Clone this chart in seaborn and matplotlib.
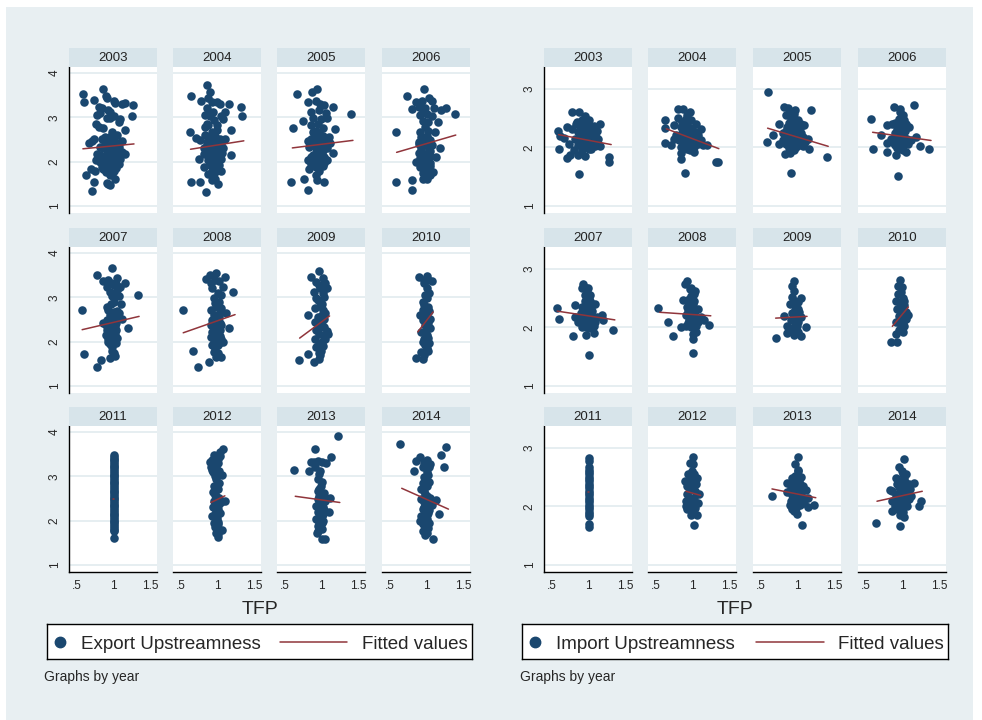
import matplotlib
matplotlib.use('Agg')
import matplotlib.pyplot as plt
from matplotlib.lines import Line2D
from matplotlib.patches import Rectangle
import seaborn as sns
import pandas as pd

YEARS = list(range(2003, 2015))
XTICKS = [0.5, 1, 1.5]
XTICK_LABELS = ['.5', '1', '1.5']

# export upstreamness vs TFP, one list of (tfp, upstreamness) per year
EXP_2003 = [(0.58, 3.52), (0.60, 3.34), (0.73, 3.40), (0.86, 3.64), (0.89, 3.47), (0.91, 3.43), (1.00, 3.37), (1.02, 3.32),
            (1.11, 3.30), (1.15, 3.32), (1.27, 3.28), (1.25, 3.04), (0.80, 3.24), (0.84, 3.22), (0.77, 3.05), (0.81, 3.09),
            (0.93, 3.17), (0.95, 3.13), (0.91, 2.98), (0.95, 2.99), (1.00, 3.02), (1.09, 2.96), (1.08, 2.90), (0.76, 2.84),
            (0.80, 2.79), (0.85, 2.75), (1.16, 2.71), (0.98, 2.67), (0.66, 2.43), (0.70, 2.46), (0.73, 2.51), (0.84, 2.51),
            (0.89, 2.46), (0.93, 2.48), (1.00, 2.51), (1.02, 2.45), (1.11, 2.46), (0.82, 2.33), (0.86, 2.30), (0.91, 2.31),
            (0.95, 2.26), (1.05, 2.30), (1.07, 2.33), (1.16, 2.18), (0.77, 2.18), (0.82, 2.14), (0.86, 2.11), (0.91, 2.18),
            (0.95, 2.13), (1.00, 2.16), (1.05, 2.11), (1.09, 2.07), (0.76, 2.03), (0.81, 1.99), (0.85, 1.95), (0.90, 2.01),
            (0.95, 1.98), (0.99, 1.93), (1.04, 1.99), (1.08, 1.95), (0.69, 1.83), (0.75, 1.78), (0.89, 1.77), (0.98, 1.73),
            (1.02, 1.61), (0.95, 1.69), (0.62, 1.69), (0.73, 1.54), (0.91, 1.52), (0.95, 1.48), (0.71, 1.33), (0.93, 1.50),
            (0.91, 1.92), (0.84, 1.88), (0.86, 1.84), (0.88, 2.40), (0.97, 2.38), (1.04, 2.36), (0.98, 2.22), (1.03, 2.23),
            (1.12, 2.22), (0.93, 2.06), (1.02, 2.05), (1.06, 2.02), (0.97, 1.87), (1.04, 1.85), (0.88, 2.56), (0.97, 2.58),
            (1.05, 2.60), (1.00, 1.80)]
EXP_2004 = [(0.86, 3.72), (0.90, 3.58), (0.63, 3.49), (0.78, 3.37), (0.87, 3.43), (0.92, 3.34), (0.99, 3.34), (1.03, 3.30),
            (1.15, 3.30), (1.32, 3.24), (1.33, 3.04), (0.85, 3.20), (0.94, 3.13), (1.10, 3.13), (0.83, 3.05), (0.90, 3.02),
            (1.05, 3.02), (1.08, 2.96), (0.85, 2.86), (0.83, 2.79), (0.87, 2.83), (1.19, 2.71), (0.62, 2.67), (0.99, 2.71),
            (0.83, 2.60), (0.71, 2.54), (0.76, 2.48), (0.92, 2.56), (0.96, 2.58), (1.03, 2.51), (1.10, 2.52), (0.85, 2.45),
            (0.92, 2.41), (0.99, 2.43), (1.05, 2.39), (0.81, 2.31), (0.87, 2.28), (0.94, 2.23), (1.01, 2.26), (1.08, 2.31),
            (1.19, 2.16), (0.81, 2.18), (0.90, 2.14), (0.96, 2.13), (1.03, 2.16), (0.75, 2.07), (0.87, 2.03), (0.94, 1.99),
            (1.01, 2.01), (1.05, 2.05), (0.81, 1.88), (0.90, 1.92), (0.99, 1.84), (1.05, 1.78), (0.87, 1.73), (0.94, 1.69),
            (0.96, 1.61), (1.01, 1.50), (0.63, 1.55), (0.76, 1.55), (0.84, 1.31), (0.92, 1.58), (0.85, 2.37), (0.92, 2.67),
            (0.99, 2.83), (0.90, 2.48), (0.97, 2.50), (0.98, 2.38), (1.03, 2.32), (0.91, 2.27), (0.98, 2.15), (1.06, 2.20),
            (0.92, 2.08), (1.00, 2.08), (0.96, 1.95), (1.02, 1.92), (0.92, 1.80), (0.97, 1.76), (0.95, 2.95), (0.90, 3.10)]
EXP_2005 = [(0.67, 3.52), (0.87, 3.56), (0.94, 3.64), (0.81, 3.34), (0.92, 3.36), (1.04, 3.28), (1.16, 3.24), (1.40, 3.07),
            (0.86, 3.13), (0.97, 3.17), (1.06, 3.09), (0.75, 2.92), (0.88, 2.98), (0.99, 2.96), (1.08, 2.99), (0.61, 2.75),
            (0.86, 2.83), (0.95, 2.84), (1.02, 2.75), (1.19, 2.73), (0.88, 2.67), (0.97, 2.64), (0.90, 2.56), (1.02, 2.58),
            (1.10, 2.56), (0.81, 2.46), (0.92, 2.43), (1.04, 2.48), (1.12, 2.41), (0.83, 2.33), (0.92, 2.30), (1.02, 2.26),
            (1.08, 2.31), (1.15, 2.20), (0.88, 2.16), (0.96, 2.13), (1.04, 2.11), (0.81, 2.03), (0.90, 1.99), (0.99, 2.01),
            (1.08, 2.03), (0.83, 1.84), (0.92, 1.88), (1.02, 1.90), (0.92, 1.69), (0.94, 1.58), (0.76, 1.60), (0.58, 1.54),
            (0.81, 1.37), (1.03, 1.54), (0.88, 1.93), (0.97, 2.37), (0.86, 2.50), (0.98, 2.52), (0.87, 2.38), (1.00, 2.40),
            (1.06, 2.36), (0.96, 2.26), (1.00, 2.19), (0.92, 2.20), (0.85, 2.10), (0.98, 2.08), (1.03, 1.96), (0.96, 1.78),
            (0.86, 1.94), (0.92, 2.70), (0.98, 3.30)]
EXP_2006 = [(0.96, 3.64), (0.73, 3.49), (0.86, 3.34), (0.94, 3.37), (1.04, 3.43), (1.07, 3.36), (0.80, 3.19), (0.90, 3.24),
            (0.98, 3.20), (1.10, 3.22), (1.20, 3.17), (1.26, 3.22), (1.39, 3.07), (0.91, 3.05), (1.00, 3.07), (1.07, 3.02),
            (0.95, 2.92), (1.16, 2.89), (0.98, 2.79), (0.58, 2.67), (0.91, 2.67), (1.02, 2.69), (1.11, 2.67), (0.93, 2.56),
            (1.00, 2.58), (0.89, 2.45), (0.98, 2.46), (1.05, 2.48), (0.93, 2.33), (1.02, 2.36), (1.18, 2.30), (0.89, 2.20),
            (0.98, 2.18), (1.05, 2.23), (0.91, 2.08), (1.00, 2.05), (1.13, 2.11), (0.86, 1.99), (0.95, 1.95), (1.05, 1.98),
            (0.91, 1.88), (1.00, 1.84), (0.58, 1.55), (0.80, 1.58), (0.80, 1.37), (0.95, 1.60), (1.01, 1.61), (1.05, 1.69),
            (1.09, 1.77), (0.95, 2.37), (0.95, 2.50), (1.02, 2.52), (0.90, 2.40), (1.00, 2.42), (1.08, 2.38), (0.93, 2.26),
            (1.03, 2.28), (0.95, 2.12), (1.05, 2.12), (0.96, 2.02), (0.98, 1.90), (1.05, 1.90), (0.95, 1.75), (1.00, 1.70),
            (1.02, 2.90), (0.95, 3.15)]
EXP_2007 = [(0.98, 3.66), (0.78, 3.51), (0.57, 2.71), (0.60, 1.73), (0.78, 1.42), (0.83, 1.58), (1.33, 3.05), (1.20, 2.30),
            (1.10, 2.86), (0.86, 3.36), (0.93, 3.39), (1.05, 3.43), (1.16, 3.32), (0.91, 3.24), (1.00, 3.28), (1.09, 3.24),
            (0.95, 3.13), (1.05, 3.17), (0.98, 3.02), (1.07, 3.04), (1.00, 2.90), (0.91, 2.79), (0.93, 2.71), (1.00, 2.67),
            (1.07, 2.64), (0.95, 2.60), (1.05, 2.52), (1.11, 2.52), (0.91, 2.48), (0.98, 2.45), (0.89, 2.37), (0.95, 2.33),
            (1.02, 2.36), (0.91, 2.26), (1.00, 2.23), (0.89, 2.16), (0.95, 2.14), (1.02, 2.18), (0.93, 2.07), (1.00, 2.03),
            (0.95, 1.95), (0.98, 1.88), (0.95, 1.63), (1.02, 1.67), (0.93, 1.99), (0.86, 2.41), (0.96, 2.40), (1.03, 2.42),
            (0.97, 2.28), (1.04, 2.26), (0.98, 2.10), (1.05, 2.08), (0.97, 1.98), (1.03, 1.96), (0.98, 1.80), (1.00, 1.75),
            (1.02, 2.56), (0.96, 2.84), (1.04, 3.30), (0.97, 3.32), (1.05, 2.70)]
EXP_2008 = [(0.90, 3.51), (0.98, 3.55), (0.84, 3.42), (1.10, 3.45), (1.21, 3.11), (0.53, 2.71), (0.66, 1.78), (0.73, 1.42),
            (0.88, 1.54), (1.16, 2.30), (1.12, 2.64), (0.91, 3.32), (1.02, 3.36), (1.07, 3.24), (0.93, 3.20), (1.00, 3.09),
            (0.95, 2.98), (1.02, 2.90), (0.98, 2.79), (0.91, 2.71), (1.05, 2.75), (0.95, 2.60), (1.02, 2.56), (0.92, 2.48),
            (1.01, 2.45), (0.91, 2.37), (0.98, 2.33), (1.05, 2.37), (0.93, 2.22), (1.00, 2.18), (0.91, 2.11), (0.98, 2.03),
            (1.05, 2.07), (0.93, 1.93), (1.01, 1.92), (0.98, 1.65), (1.05, 1.65), (0.95, 1.77), (1.08, 1.99), (0.96, 2.40),
            (1.03, 2.42), (0.97, 2.28), (1.04, 2.27), (0.96, 2.12), (1.03, 2.12), (0.95, 2.00), (1.02, 1.98), (0.97, 1.86),
            (1.00, 1.75), (0.95, 2.50), (1.03, 2.65), (0.96, 2.87), (1.05, 3.05), (0.97, 3.40)]
EXP_2009 = [(0.96, 3.60), (0.85, 3.45), (0.92, 3.34), (1.05, 3.32), (0.98, 3.20), (0.89, 3.13), (1.02, 3.09), (0.93, 2.98),
            (1.00, 2.86), (0.91, 2.75), (1.02, 2.71), (0.82, 2.60), (0.95, 2.56), (1.05, 2.64), (0.91, 2.45), (1.00, 2.37),
            (1.08, 2.23), (0.93, 2.26), (1.02, 2.14), (0.91, 2.07), (1.00, 1.99), (0.93, 1.88), (0.99, 1.80), (0.81, 1.73),
            (0.69, 1.58), (0.90, 1.55), (0.96, 1.61), (0.98, 1.69), (1.09, 2.18), (0.95, 2.94), (1.02, 3.43), (0.96, 2.50),
            (1.03, 2.50), (0.96, 2.33), (1.04, 2.32), (0.97, 2.18), (1.05, 2.06), (0.96, 1.95), (1.02, 1.90), (0.97, 1.75),
            (1.00, 2.60), (0.98, 2.80), (1.03, 3.00), (0.96, 3.27), (1.07, 3.20)]
EXP_2010 = [(0.90, 3.45), (1.00, 3.47), (1.07, 3.36), (0.96, 3.32), (1.00, 3.20), (0.98, 3.05), (0.95, 2.90), (1.02, 2.79),
            (0.95, 2.71), (0.91, 2.60), (1.00, 2.64), (0.95, 2.48), (1.05, 2.31), (0.98, 2.37), (0.93, 2.22), (1.00, 2.14),
            (0.95, 1.99), (0.98, 1.92), (0.93, 1.77), (0.85, 1.63), (0.95, 1.60), (1.02, 1.80), (1.00, 2.98), (1.05, 2.52),
            (1.02, 3.40), (0.97, 3.38), (1.03, 3.10), (0.97, 2.83), (1.03, 2.70), (0.97, 2.55), (1.02, 2.43), (1.00, 2.30),
            (0.97, 2.05), (1.02, 2.08), (1.00, 1.85), (0.97, 1.70), (1.03, 1.98), (1.00, 2.56)]
EXP_2011 = [(1.00, 1.61), (1.00, 1.77), (1.00, 1.80), (1.00, 1.84), (1.00, 1.88), (1.00, 1.92), (1.00, 1.96), (1.00, 2.00),
            (1.00, 2.04), (1.00, 2.08), (1.00, 2.12), (1.00, 2.16), (1.00, 2.20), (1.00, 2.24), (1.00, 2.28), (1.00, 2.32),
            (1.00, 2.36), (1.00, 2.40), (1.00, 2.44), (1.00, 2.48), (1.00, 2.52), (1.00, 2.56), (1.00, 2.60), (1.00, 2.64),
            (1.00, 2.68), (1.00, 2.72), (1.00, 2.76), (1.00, 2.80), (1.00, 2.84), (1.00, 2.88), (1.00, 2.92), (1.00, 2.96),
            (1.00, 3.00), (1.00, 3.04), (1.00, 3.08), (1.00, 3.12), (1.00, 3.16), (1.00, 3.20), (1.00, 3.24), (1.00, 3.28),
            (1.00, 3.32), (1.00, 3.36), (1.00, 3.40), (1.00, 3.44), (1.00, 3.47)]
EXP_2012 = [(1.07, 3.62), (1.03, 3.55), (0.95, 3.47), (0.89, 3.32), (0.93, 3.36), (1.00, 3.39), (0.91, 3.20), (0.98, 3.22),
            (0.94, 3.09), (1.06, 3.02), (0.98, 2.94), (0.95, 2.79), (1.01, 2.71), (0.94, 2.64), (0.98, 2.56), (0.95, 2.45),
            (1.10, 2.45), (1.02, 2.37), (0.94, 2.30), (0.98, 2.23), (1.03, 2.18), (0.93, 2.11), (0.99, 2.05), (0.95, 1.95),
            (0.99, 1.80), (1.06, 1.80), (1.00, 1.63), (0.98, 1.73), (1.01, 1.92), (0.97, 2.67), (1.02, 3.13), (1.00, 3.30),
            (1.03, 3.45), (0.96, 3.00), (1.02, 2.85), (0.97, 2.58), (1.02, 2.50), (1.05, 2.42), (0.97, 2.38), (1.00, 2.27),
            (0.96, 2.15), (1.01, 1.98), (0.96, 1.86), (1.00, 1.70), (0.93, 3.15)]
EXP_2013 = [(1.22, 3.92), (0.91, 3.62), (0.62, 3.14), (0.83, 3.11), (1.13, 3.43), (0.85, 3.32), (0.95, 3.34), (1.00, 3.32),
            (0.91, 3.22), (0.98, 3.13), (0.95, 2.94), (0.99, 2.79), (0.95, 2.67), (1.00, 2.56), (0.95, 2.48), (1.05, 2.52),
            (1.11, 2.51), (0.98, 2.41), (0.93, 2.33), (1.02, 2.30), (0.95, 2.20), (1.10, 2.20), (1.00, 2.11), (0.93, 2.03),
            (1.00, 1.95), (0.95, 1.88), (0.95, 1.77), (1.01, 1.58), (1.05, 1.58), (0.98, 1.84), (1.02, 2.14), (0.97, 3.05),
            (1.01, 2.88), (0.96, 2.72), (1.03, 2.62), (0.97, 2.55), (0.97, 2.40), (1.05, 2.44), (1.00, 2.37), (0.96, 2.25),
            (1.04, 2.25), (0.97, 2.08), (1.02, 2.00), (0.97, 1.95), (1.00, 1.82), (0.94, 1.72), (1.06, 3.30), (0.89, 3.33)]
EXP_2014 = [(0.64, 3.72), (1.27, 3.67), (1.20, 3.49), (1.24, 3.22), (1.17, 2.16), (1.09, 1.58), (0.91, 3.43), (0.83, 3.11),
            (0.86, 3.34), (1.00, 3.36), (1.05, 3.28), (0.95, 3.22), (1.02, 3.02), (0.95, 2.86), (1.00, 2.79), (0.93, 2.71),
            (0.98, 2.60), (1.05, 2.52), (0.93, 2.48), (1.00, 2.37), (1.13, 2.46), (0.95, 2.26), (1.02, 2.18), (0.93, 2.11),
            (1.00, 2.03), (0.95, 1.92), (1.02, 1.84), (0.95, 1.77), (0.98, 1.67), (0.91, 1.99), (0.98, 2.94), (0.96, 3.30),
            (1.03, 3.20), (1.00, 3.10), (0.97, 2.98), (1.03, 2.88), (0.97, 2.66), (1.01, 2.55), (0.96, 2.42), (1.04, 2.40),
            (1.08, 2.35), (0.97, 2.30), (1.04, 2.25), (1.00, 2.12), (0.97, 2.00), (1.04, 1.95), (0.98, 1.83), (1.00, 1.72)]

# import upstreamness vs TFP
IMP_2003 = [(0.78, 2.60), (0.87, 2.61), (0.95, 2.54), (0.58, 2.29), (0.61, 2.20), (0.60, 1.98), (0.71, 1.82), (0.75, 1.87),
            (0.87, 1.54), (1.28, 1.83), (1.28, 1.76), (1.16, 2.41), (0.70, 2.35), (0.77, 2.32), (0.84, 2.44), (0.91, 2.47),
            (1.00, 2.47), (0.95, 2.38), (1.05, 2.35), (1.11, 2.29), (0.86, 2.26), (0.93, 2.24), (1.00, 2.26), (1.07, 2.21),
            (0.82, 2.15), (0.91, 2.15), (0.98, 2.12), (1.05, 2.12), (1.11, 2.09), (0.73, 2.06), (0.86, 2.05), (0.95, 2.03),
            (1.02, 2.02), (1.09, 2.03), (1.16, 2.03), (0.80, 1.95), (0.91, 1.95), (1.00, 1.97), (0.86, 1.87), (0.95, 1.85),
            (0.67, 2.16), (1.07, 2.29), (0.91, 2.35), (0.88, 2.30), (0.97, 2.31), (1.03, 2.25), (0.90, 2.20), (0.96, 2.18),
            (1.03, 2.17), (1.10, 2.18), (0.88, 2.10), (0.95, 2.09), (1.00, 2.08), (1.06, 2.06), (0.92, 2.00), (1.04, 1.97),
            (0.83, 2.40), (0.98, 2.42), (1.13, 2.15), (1.08, 2.37)]
IMP_2004 = [(0.80, 2.66), (0.87, 2.66), (0.96, 2.61), (0.62, 2.47), (0.62, 2.33), (0.62, 2.08), (0.71, 2.05), (0.84, 1.80),
            (0.90, 1.56), (1.32, 1.75), (1.35, 1.76), (0.80, 2.51), (0.91, 2.49), (1.05, 2.41), (1.11, 2.32), (0.75, 2.39),
            (0.84, 2.35), (0.93, 2.38), (1.00, 2.29), (0.86, 2.24), (0.95, 2.21), (1.07, 2.21), (0.75, 2.15), (0.82, 2.12),
            (0.91, 2.12), (1.00, 2.09), (1.14, 2.05), (1.20, 2.05), (0.84, 2.01), (0.93, 1.98), (1.02, 1.93), (0.84, 1.91),
            (1.07, 2.06), (0.98, 2.47), (0.88, 2.30), (0.96, 2.33), (1.03, 2.27), (0.90, 2.17), (0.98, 2.16), (1.04, 2.14),
            (0.88, 2.05), (0.96, 2.05), (1.10, 2.10), (0.78, 2.22), (0.85, 2.43), (0.97, 1.95), (1.02, 2.00), (0.93, 2.55),
            (1.12, 2.12)]
IMP_2005 = [(0.60, 2.95), (0.82, 2.70), (0.87, 2.68), (0.96, 2.64), (1.18, 2.64), (0.58, 2.10), (0.66, 2.22), (0.75, 2.41),
            (0.84, 2.55), (0.91, 2.49), (1.00, 2.47), (1.05, 2.41), (1.09, 2.38), (0.86, 2.35), (0.93, 2.32), (1.02, 2.29),
            (0.80, 2.24), (0.89, 2.21), (0.98, 2.18), (1.07, 2.18), (1.14, 2.15), (0.75, 2.06), (0.84, 2.06), (0.93, 2.03),
            (1.02, 2.05), (1.16, 1.98), (0.83, 1.89), (0.89, 1.91), (0.95, 1.95), (0.91, 1.56), (1.41, 1.83), (1.00, 2.12),
            (0.86, 2.12), (0.88, 2.42), (0.96, 2.38), (1.03, 2.34), (0.84, 2.28), (0.91, 2.26), (0.96, 2.24), (1.05, 2.24),
            (0.87, 2.16), (0.94, 2.14), (1.10, 2.10), (0.80, 2.12), (0.90, 2.08), (0.97, 2.07), (1.08, 2.03), (0.88, 1.99),
            (0.98, 2.00), (0.95, 2.58), (0.90, 2.63)]
IMP_2006 = [(0.88, 2.70), (0.97, 2.66), (1.15, 2.72), (0.57, 2.49), (0.59, 1.97), (0.79, 1.92), (0.91, 1.87), (0.94, 1.52),
            (1.36, 1.97), (1.24, 2.03), (0.70, 2.21), (0.79, 2.39), (0.86, 2.41), (0.95, 2.49), (1.02, 2.47), (1.09, 2.35),
            (0.93, 2.32), (1.00, 2.26), (0.89, 2.24), (0.84, 2.15), (0.93, 2.14), (1.02, 2.18), (1.11, 2.12), (1.18, 2.18),
            (0.79, 2.08), (0.89, 2.05), (0.98, 2.03), (1.07, 2.06), (1.05, 1.93), (0.95, 1.98), (0.98, 2.38), (0.90, 2.42),
            (0.98, 2.44), (1.05, 2.40), (0.96, 2.30), (1.04, 2.29), (0.90, 2.19), (0.97, 2.18), (1.06, 2.15), (0.86, 2.10),
            (0.93, 2.09), (1.00, 2.10), (0.92, 1.99), (1.00, 1.96), (1.00, 2.55), (0.97, 2.60)]
IMP_2007 = [(0.93, 2.74), (0.99, 2.67), (0.91, 2.67), (0.57, 2.34), (0.60, 2.14), (0.79, 1.86), (0.97, 1.87), (1.08, 1.91),
            (1.00, 1.53), (1.33, 1.95), (0.81, 2.18), (0.82, 2.39), (1.18, 2.21), (1.20, 2.12), (0.95, 2.55), (1.00, 2.49),
            (1.05, 2.41), (1.09, 2.41), (0.91, 2.35), (0.98, 2.32), (1.05, 2.29), (0.89, 2.24), (0.95, 2.21), (1.02, 2.20),
            (1.11, 2.18), (0.86, 2.09), (0.93, 2.06), (1.00, 2.08), (1.09, 2.09), (0.91, 2.01), (1.00, 1.99), (1.07, 2.03),
            (0.98, 2.61), (0.95, 2.46), (1.02, 2.45), (0.97, 2.38), (1.04, 2.35), (0.93, 2.28), (1.00, 2.26), (0.90, 2.15),
            (0.98, 2.14), (1.05, 2.15), (0.95, 2.09), (1.03, 2.06), (0.97, 2.00), (1.02, 2.56), (0.96, 2.68)]
IMP_2008 = [(0.93, 2.79), (0.89, 2.75), (0.98, 2.67), (0.53, 2.33), (0.66, 2.09), (0.73, 1.86), (1.00, 1.80), (1.00, 1.57),
            (1.23, 2.05), (1.05, 1.93), (0.84, 2.01), (1.02, 2.58), (0.95, 2.49), (0.87, 2.47), (1.00, 2.41), (0.93, 2.35),
            (1.07, 2.32), (0.98, 2.26), (0.91, 2.21), (1.02, 2.18), (1.11, 2.18), (0.95, 2.12), (1.07, 2.09), (0.91, 2.03),
            (0.98, 2.01), (1.16, 2.12), (1.01, 1.89), (0.98, 2.53), (0.95, 2.43), (1.02, 2.45), (0.97, 2.36), (1.03, 2.28),
            (0.94, 2.28), (0.99, 2.20), (0.96, 2.15), (1.04, 2.12), (1.00, 2.05), (1.05, 2.02), (0.94, 2.08), (1.03, 2.62),
            (0.97, 2.65)]
IMP_2009 = [(0.95, 2.79), (0.92, 2.71), (0.95, 2.62), (1.05, 2.51), (0.89, 2.41), (0.98, 2.38), (0.82, 2.20), (0.93, 2.24),
            (1.02, 2.26), (0.91, 2.12), (1.00, 2.09), (0.86, 2.03), (0.95, 2.01), (1.11, 2.01), (0.86, 1.91), (0.95, 1.87),
            (1.05, 1.86), (0.70, 1.82), (1.00, 2.32), (1.05, 2.18), (0.93, 2.52), (0.97, 2.45), (1.00, 2.43), (0.96, 2.30),
            (1.02, 2.20), (0.97, 2.15), (0.99, 2.03), (0.92, 1.95), (1.00, 1.93)]
IMP_2010 = [(0.96, 2.81), (0.94, 2.71), (0.98, 2.61), (1.00, 2.51), (0.91, 2.45), (1.02, 2.39), (0.93, 2.32), (1.05, 2.26),
            (1.07, 2.21), (0.95, 2.20), (0.91, 2.10), (1.00, 2.09), (1.02, 2.03), (0.95, 1.95), (0.91, 1.89), (0.84, 1.75),
            (0.93, 1.76), (0.98, 2.35), (1.05, 2.15), (0.97, 2.42), (1.02, 2.45), (1.00, 2.30), (1.03, 2.18), (0.97, 2.12),
            (0.98, 2.02), (1.00, 1.92), (0.94, 2.58), (0.99, 2.70)]
IMP_2011 = [(1.00, 1.65), (1.00, 1.70), (1.00, 1.83), (1.00, 1.87), (1.00, 1.91), (1.00, 1.95), (1.00, 1.99), (1.00, 2.03),
            (1.00, 2.07), (1.00, 2.11), (1.00, 2.15), (1.00, 2.19), (1.00, 2.23), (1.00, 2.27), (1.00, 2.31), (1.00, 2.35),
            (1.00, 2.39), (1.00, 2.43), (1.00, 2.47), (1.00, 2.51), (1.00, 2.55), (1.00, 2.59), (1.00, 2.63), (1.00, 2.67),
            (1.00, 2.78), (1.00, 2.83)]
IMP_2012 = [(1.00, 2.84), (0.97, 2.75), (1.01, 2.72), (0.89, 2.44), (0.94, 2.55), (1.02, 2.56), (1.06, 2.48), (0.98, 2.47),
            (0.92, 2.35), (1.00, 2.32), (1.09, 2.22), (0.93, 2.21), (1.02, 2.15), (0.91, 2.09), (0.98, 2.05), (1.07, 2.06),
            (0.93, 1.95), (1.00, 1.92), (0.98, 1.85), (1.06, 1.86), (1.02, 1.68), (0.91, 2.01), (1.05, 2.38), (0.96, 2.40),
            (1.03, 2.43), (0.97, 2.28), (1.04, 2.27), (0.96, 2.15), (1.00, 2.10), (0.95, 2.02), (1.03, 1.97), (0.99, 2.60)]
IMP_2013 = [(1.01, 2.85), (0.97, 2.72), (1.01, 2.61), (0.86, 2.41), (0.93, 2.48), (1.05, 2.51), (0.98, 2.41), (1.07, 2.35),
            (0.91, 2.32), (1.11, 2.29), (1.00, 2.29), (0.65, 2.18), (0.86, 2.24), (0.95, 2.21), (1.05, 2.20), (1.14, 2.14),
            (0.91, 2.09), (1.00, 2.08), (1.09, 2.06), (1.23, 2.02), (1.14, 1.99), (0.91, 2.01), (0.98, 1.98), (0.93, 1.95),
            (0.99, 1.87), (1.06, 1.68), (0.89, 2.03), (0.96, 2.52), (1.02, 2.45), (0.94, 2.38), (1.03, 2.38), (0.96, 2.30),
            (1.04, 2.26), (0.92, 2.20), (0.99, 2.16), (1.08, 2.14), (0.95, 2.12), (1.03, 2.12), (0.97, 2.04), (1.04, 2.03),
            (0.95, 1.92), (1.00, 2.63)]
IMP_2014 = [(1.02, 2.82), (0.95, 2.68), (1.00, 2.56), (0.64, 1.72), (0.96, 1.66), (1.02, 1.82), (1.25, 2.10), (1.23, 2.01),
            (1.16, 2.41), (0.83, 2.29), (0.91, 2.49), (1.02, 2.49), (1.09, 2.38), (0.93, 2.38), (0.86, 2.26), (0.98, 2.26),
            (1.07, 2.24), (0.91, 2.18), (1.00, 2.15), (1.11, 2.18), (0.86, 2.09), (0.95, 2.08), (1.05, 2.06), (0.86, 1.93),
            (0.93, 1.95), (1.00, 1.91), (1.09, 2.12), (0.89, 2.01), (0.97, 2.44), (1.04, 2.42), (0.95, 2.33), (1.03, 2.31),
            (1.10, 2.30), (0.92, 2.22), (1.02, 2.20), (1.08, 2.20), (0.97, 2.12), (1.03, 2.10), (0.91, 2.05), (0.99, 2.02),
            (1.06, 2.00), (0.97, 1.86), (1.05, 2.56), (0.99, 2.60)]

# fitted values: endpoints of the linear fit per year (2003..2014)
EXP_FIT_X0 = [0.58, 0.63, 0.60, 0.59, 0.57, 0.53, 0.70, 0.88, 0.99, 0.91, 0.64, 0.66]
EXP_FIT_X1 = [1.28, 1.36, 1.43, 1.40, 1.35, 1.24, 1.11, 1.09, 1.01, 1.10, 1.25, 1.30]
EXP_FIT_Y0 = [2.29, 2.28, 2.31, 2.21, 2.27, 2.20, 2.08, 2.22, 2.48, 2.41, 2.55, 2.73]
EXP_FIT_Y1 = [2.40, 2.47, 2.48, 2.60, 2.57, 2.61, 2.58, 2.67, 2.48, 2.56, 2.41, 2.26]

IMP_FIT_X0 = [0.59, 0.64, 0.59, 0.59, 0.57, 0.55, 0.70, 0.86, 0.99, 0.91, 0.65, 0.65]
IMP_FIT_X1 = [1.31, 1.36, 1.42, 1.39, 1.36, 1.25, 1.13, 1.08, 1.01, 1.11, 1.25, 1.27]
IMP_FIT_Y0 = [2.22, 2.32, 2.33, 2.26, 2.28, 2.26, 2.16, 2.02, 2.24, 2.26, 2.30, 2.09]
IMP_FIT_Y1 = [2.05, 1.98, 2.02, 2.12, 2.13, 2.20, 2.19, 2.35, 2.24, 2.19, 2.15, 2.26]

EXP_YTICKS = [1, 2, 3, 4]
IMP_YTICKS = [1, 2, 3]

NAVY = '#1a476f'
MAROON = '#90353b'
BG = '#e8eff2'
STRIP = '#d7e4ea'
GRID = '#e6eef1'

W, H = 982, 720
ROW_TOP = [67, 247, 426]
PLOT_W, PLOT_H, STRIP_H = 88, 146, 19


def box(x0, y0, w, h):
    return [x0 / W, 1 - (y0 + h) / H, w / W, h / H]


sns.set_theme(style='white')
plt.rcParams['font.family'] = ['Liberation Sans', 'DejaVu Sans']

fig = plt.figure(figsize=(W / 100, H / 100), dpi=100)
fig.patch.set_facecolor('white')
fig.add_artist(Rectangle((6 / W, 0), 967 / W, 713 / H, transform=fig.transFigure,
                         facecolor=BG, edgecolor='none', zorder=-5))


def draw_panel(series, fx0, fx1, fy0, fy1, col_x, ylim, yticks, label, leg_x, leg_w, tfp_x, note_x):
    for i, year in enumerate(YEARS):
        r, c = divmod(i, 4)
        ax = fig.add_axes(box(col_x[c], ROW_TOP[r], PLOT_W, PLOT_H))
        ax.set_facecolor('white')
        df = pd.DataFrame(series[year], columns=['tfp', 'ups'])
        sns.scatterplot(data=df, x='tfp', y='ups', ax=ax, color=NAVY, s=38,
                        linewidth=0, zorder=3, legend=False)
        fit = pd.DataFrame({'tfp': [fx0[i], fx1[i]], 'ups': [fy0[i], fy1[i]]})
        sns.lineplot(data=fit, x='tfp', y='ups', ax=ax, color=MAROON, lw=1.1,
                     zorder=4, sort=False)
        ax.set_xlim(0.39, 1.595)
        ax.set_ylim(*ylim)
        ax.set_xticks(XTICKS)
        ax.set_xticklabels(XTICK_LABELS)
        ax.set_yticks(yticks)
        ax.set_yticklabels([str(t) for t in yticks])
        ax.set_xlabel('')
        ax.set_ylabel('')
        ax.grid(False)
        for t in yticks:
            ax.axhline(t, color=GRID, lw=1.4, zorder=1)
        for s in ['top', 'right']:
            ax.spines[s].set_visible(False)
        ax.tick_params(axis='both', direction='out', length=4, width=0.8,
                       color='black', labelsize=8.5, pad=2)
        if c == 0:
            ax.spines['left'].set_color('black')
            ax.spines['left'].set_linewidth(1.0)
            for t in ax.get_yticklabels():
                t.set_rotation(90)
                t.set_va('center')
        else:
            ax.spines['left'].set_visible(False)
            ax.tick_params(axis='y', left=False, labelleft=False)
        if r == 2:
            ax.spines['bottom'].set_color('black')
            ax.spines['bottom'].set_linewidth(1.0)
        else:
            ax.spines['bottom'].set_visible(False)
            ax.tick_params(axis='x', bottom=False, labelbottom=False)
        sax = fig.add_axes(box(col_x[c], ROW_TOP[r] - STRIP_H, PLOT_W, STRIP_H))
        sax.set_facecolor(STRIP)
        sax.set_xticks([])
        sax.set_yticks([])
        for s in sax.spines.values():
            s.set_visible(False)
        sax.text(0.5, 0.47, str(year), ha='center', va='center', fontsize=9.5,
                 color='#222222', transform=sax.transAxes)

    fig.text(tfp_x / W, 1 - 609 / H, 'TFP', ha='center', va='center', fontsize=14)

    lax = fig.add_axes(box(leg_x, 624, leg_w, 35))
    lax.set_facecolor('white')
    lax.set_xticks([])
    lax.set_yticks([])
    for s in lax.spines.values():
        s.set_color('black')
        s.set_linewidth(1.0)
    h1 = Line2D([], [], marker='o', ls='', color=NAVY, markersize=7.5)
    h2 = Line2D([], [], color=MAROON, lw=1.1)
    leg1 = lax.legend([h1], [label], loc='center left', bbox_to_anchor=(0.0, 0.42),
                      frameon=False, fontsize=13.5, handlelength=0.8, handletextpad=0.7,
                      borderaxespad=0.1, borderpad=0.2)
    lax.add_artist(leg1)
    lax.legend([h2], ['Fitted values'], loc='center right', bbox_to_anchor=(1.0, 0.42),
               frameon=False, fontsize=13.5, handlelength=3.6, handletextpad=0.8,
               borderaxespad=0.0, borderpad=0.2)

    fig.text(note_x / W, 1 - 677 / H, 'Graphs by year', ha='left', va='center', fontsize=10)


EXPORT = {2003: EXP_2003, 2004: EXP_2004, 2005: EXP_2005, 2006: EXP_2006,
          2007: EXP_2007, 2008: EXP_2008, 2009: EXP_2009, 2010: EXP_2010,
          2011: EXP_2011, 2012: EXP_2012, 2013: EXP_2013, 2014: EXP_2014}
IMPORT = {2003: IMP_2003, 2004: IMP_2004, 2005: IMP_2005, 2006: IMP_2006,
          2007: IMP_2007, 2008: IMP_2008, 2009: IMP_2009, 2010: IMP_2010,
          2011: IMP_2011, 2012: IMP_2012, 2013: IMP_2013, 2014: IMP_2014}

draw_panel(EXPORT, EXP_FIT_X0, EXP_FIT_X1, EXP_FIT_Y0, EXP_FIT_Y1,
           [69, 173, 277, 382], (0.842, 4.135), EXP_YTICKS, 'Export Upstreamness',
           47, 425, 260, 44)
draw_panel(IMPORT, IMP_FIT_X0, IMP_FIT_X1, IMP_FIT_Y0, IMP_FIT_Y1,
           [544, 648, 753, 858], (0.88, 3.376), IMP_YTICKS, 'Import Upstreamness',
           522, 426, 735, 520)

fig.savefig('out.png', dpi=100, facecolor='white')
